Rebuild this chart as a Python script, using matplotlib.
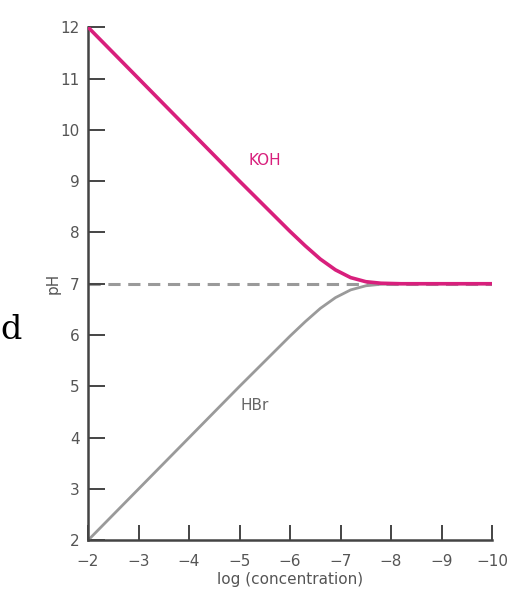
import matplotlib.pyplot as plt

# values
logc = [-2, -3, -4, -5, -6, -6.3, -6.6, -6.9, -7.2, -7.5, -7.8, -8.2, -9, -10]
koh = [12, 11, 10, 9, 8.02, 7.74, 7.48, 7.27, 7.12, 7.04, 7.01, 7.0, 7.0, 7.0]
hbr = [2, 3, 4, 5, 5.98, 6.26, 6.52, 6.73, 6.88, 6.96, 6.99, 7.0, 7.0, 7.0]
neutral = 7
xticks = [-2, -3, -4, -5, -6, -7, -8, -9, -10]
yticks = list(range(2, 13))

pink = '#d81f7c'
grey = '#9a9a9a'
txt = '#555555'

fig = plt.figure(figsize=(5.12, 6.05), dpi=100)
ax = fig.add_axes([0.172, 0.107, 0.789, 0.848])

ax.plot([-2, -10], [neutral, neutral], color=grey, lw=2.2, ls=(0, (4, 2.5)), zorder=1)
ax.plot(logc, hbr, color=grey, lw=2, zorder=2)
ax.plot(logc, koh, color=pink, lw=2.6, zorder=3)

ax.text(-5.5, 9.4, 'KOH', color=pink, fontsize=11, ha='center', va='center')
ax.text(-5.3, 4.62, 'HBr', color='#666666', fontsize=11, ha='center', va='center')

ax.set_xlim(-2, -10)
ax.set_ylim(2, 12)
ax.set_xticks(xticks)
ax.set_xticklabels(['\u2212%d' % abs(v) for v in xticks])
ax.set_yticks(yticks)
for s in ['top', 'right']:
    ax.spines[s].set_visible(False)
for s in ['left', 'bottom']:
    ax.spines[s].set_color('#444444')
    ax.spines[s].set_linewidth(1.8)
ax.tick_params(axis='x', direction='in', length=11, width=1.4, color='#444444',
               labelcolor=txt, labelsize=11, pad=10)
ax.tick_params(axis='y', direction='in', length=12, width=1.4, color='#444444',
               labelcolor=txt, labelsize=11, pad=6)
ax.set_xlabel('log (concentration)', color=txt, fontsize=11, labelpad=2)
ax.set_ylabel('pH', color=txt, fontsize=11, labelpad=0)

fig.text(0.0, 0.44, 'd', family='DejaVu Serif', fontsize=24, color='black')

fig.savefig('out.png', dpi=100)
